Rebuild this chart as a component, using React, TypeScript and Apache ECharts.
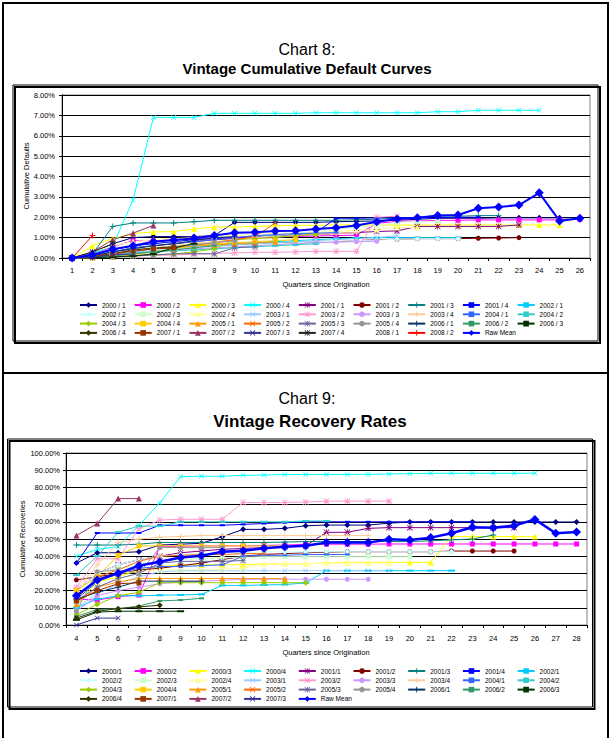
import React, { useEffect, useRef } from 'react';
import * as echarts from 'echarts';

const FONT = "'Liberation Sans', Arial, sans-serif";

// ---------- Chart 8 : cumulative defaults (%) ----------
const QUARTERS_8 = ['1','2','3','4','5','6','7','8','9','10','11','12','13','14','15','16','17','18','19','20','21','22','23','24','25','26'];
const VINTAGES_8 = ['2000 / 1','2000 / 2','2000 / 3','2000 / 4','2001 / 1','2001 / 2','2001 / 3','2001 / 4','2002 / 1','2002 / 2','2002 / 3','2002 / 4','2003 / 1','2003 / 2','2003 / 3','2003 / 4','2004 / 1','2004 / 2','2004 / 3','2004 / 4','2005 / 1','2005 / 2','2005 / 3','2005 / 4','2006 / 1','2006 / 2','2006 / 3','2006 / 4','2007 / 1','2007 / 2','2007 / 3','2007 / 4','2008 / 1','2008 / 2'];

const DEF_2000 = [
  [0, 0.25, 0.7, 1.0, 1.05, 1.05, 1.05, 1.1, 1.75, 1.75, 1.75, 1.75, 1.75, 1.78, 1.8, 1.82, 1.85, 1.9, 1.95, 1.95, 1.95, 1.97, 1.97, 1.97, 1.97, 1.97],
  [0, 0.2, 0.55, 0.85, 0.85, 0.9, 0.95, 1.0, 1.0, 1.02, 1.05, 1.05, 1.08, 1.1, 1.12, 1.7, 1.8, 1.82, 1.85, 1.85, 1.87, 1.87, 1.87, 1.87, 1.87, 1.9],
  [0, 0.6, 0.95, 1.2, 1.28, 1.3, 1.42, 1.52, 1.52, 1.55, 1.58, 1.6, 1.6, 1.62, 1.62, 1.62, 1.62, 1.62, 1.62, 1.62, 1.62, 1.62, 1.62, 1.62, 1.62],
  [0, 0.2, 0.6, 2.85, 6.9, 6.9, 6.9, 7.1, 7.1, 7.1, 7.1, 7.1, 7.13, 7.13, 7.13, 7.13, 7.13, 7.13, 7.18, 7.18, 7.25, 7.25, 7.25, 7.25],
];
const DEF_2001 = [
  [0, 0.1, 0.3, 0.5, 0.6, 0.7, 0.8, 0.9, 0.95, 1.0, 1.05, 1.1, 1.15, 1.2, 1.25, 1.3, 1.33, 1.55, 1.55, 1.55, 1.55, 1.55, 1.62],
  [0, 0.05, 0.15, 0.3, 0.4, 0.5, 0.55, 0.6, 0.65, 0.7, 0.75, 0.75, 0.8, 0.8, 0.85, 0.9, 0.92, 0.95, 0.95, 0.95, 0.97, 0.98, 1.0],
  [0, 0.2, 1.55, 1.72, 1.72, 1.72, 1.78, 1.85, 1.85, 1.85, 1.85, 1.85, 1.85, 1.85, 1.88, 1.9, 1.95, 2.0, 2.05, 2.05, 2.08, 2.08],
  [0, 0.15, 0.4, 0.6, 0.7, 0.8, 0.9, 0.95, 1.0, 1.05, 1.1, 1.15, 1.25, 1.95, 1.95, 1.97, 1.97, 1.97, 1.97, 2.0, 2.0],
];
const DEF_2002 = [
  [0, 0.1, 0.25, 0.4, 0.5, 0.55, 0.6, 0.65, 0.7, 0.75, 0.8, 0.85, 0.9, 0.95, 0.98, 1.0, 1.0, 1.0, 1.0, 1.0],
  [0, 0.05, 0.2, 0.3, 0.4, 0.45, 0.5, 0.55, 0.6, 0.65, 0.7, 0.75, 0.8, 0.82, 0.85, 0.88, 0.92, 0.95, 0.95, 0.95],
  [0, 0.1, 0.2, 0.35, 0.5, 0.6, 0.7, 0.8, 0.9, 1.0, 1.1, 1.2, 1.3, 1.4, 1.5, 1.6, 1.75, 1.8, 1.8],
  [0, 0.3, 0.6, 0.8, 0.9, 0.95, 1.0, 1.05, 1.1, 1.15, 1.2, 1.2, 1.25, 1.3, 1.35, 1.4, 1.5, 1.5],
];
const DEF_2003 = [
  [0, 0.05, 0.15, 0.25, 0.35, 0.45, 0.55, 0.6, 0.65, 0.7, 0.75, 0.8, 0.85, 0.9, 0.95, 1.0, 1.1],
  [0, 0.02, 0.05, 0.1, 0.12, 0.15, 0.18, 0.22, 0.25, 0.28, 0.28, 0.3, 0.33, 0.33, 0.33, 2.0, 2.05],
  [0, 0.05, 0.1, 0.2, 0.3, 0.4, 0.45, 0.5, 0.55, 0.6, 0.65, 0.7, 0.75, 0.78, 0.8, 0.82],
  [0, 0.1, 0.25, 0.4, 0.5, 0.6, 0.7, 0.8, 0.9, 1.0, 1.05, 1.1, 1.15, 1.2, 1.25],
];
const DEF_2004 = [
  [0, 0.1, 0.3, 0.5, 0.6, 0.7, 0.8, 0.9, 1.0, 1.1, 1.15, 1.2, 1.22, 1.25],
  [0, 0.05, 0.15, 0.25, 0.3, 0.35, 0.4, 0.45, 0.5, 0.55, 0.6, 0.65, 0.7],
  [0, 0.02, 0.05, 0.1, 0.15, 0.2, 0.3, 0.45, 0.9, 0.95, 1.0, 1.1, 1.15],
  [0, 0, 0.05, 0.15, 0.3, 0.45, 0.6, 0.7, 0.75, 0.8, 0.85, 0.9],
];
const DEF_2005 = [
  [0, 0.05, 0.2, 0.35, 0.5, 0.55, 0.6, 0.65, 0.7, 0.75, 0.8],
  [0, 0.05, 0.2, 0.35, 0.45, 0.55, 0.65, 0.75, 0.9, 1.05, 1.72],
  [0, 0.02, 0.05, 0.1, 0.15, 0.2, 0.22, 0.2, 0.5, 0.55],
  [0, 0.05, 0.15, 0.3, 0.45, 0.55, 0.65, 0.75, 0.85],
];
const DEF_2006 = [
  [0, 0.1, 0.3, 0.45, 0.6, 0.7, 0.85, 1.0, 1.05],
  [0, 0.05, 0.1, 0.2, 0.3, 0.4, 0.5, 0.6],
  [0, 0.02, 0.05, 0.1, 0.2, 0.5, 0.7],
  [0, 0.05, 0.2, 0.4, 0.48, 0.55],
];
const DEF_2007 = [
  [0, 0.1, 0.2, 0.35, 0.45, 0.5],
  [0, 0.3, 0.9, 1.22, 1.6],
  [0, 0.05, 0.15, 0.2],
  [0, 0.3, 0.7],
];
const DEF_2008 = [
  [0, 0],
  [0, 1.1],
];
const DEF_MEAN = [0, 0.15, 0.43, 0.6, 0.8, 0.88, 0.96, 1.1, 1.24, 1.26, 1.33, 1.34, 1.42, 1.49, 1.59, 1.78, 1.91, 1.98, 2.08, 2.11, 2.44, 2.5, 2.6, 3.2, 1.82, 1.95];

// ---------- Chart 9 : recovery rates (%) ----------
const QUARTERS_9 = ['4','5','6','7','8','9','10','11','12','13','14','15','16','17','18','19','20','21','22','23','24','25','26','27','28'];
const VINTAGES_9 = ['2000/1','2000/2','2000/3','2000/4','2001/1','2001/2','2001/3','2001/4','2002/1','2002/2','2002/3','2002/4','2003/1','2003/2','2003/3','2003/4','2004/1','2004/2','2004/3','2004/4','2005/1','2005/2','2005/3','2005/4','2006/1','2006/2','2006/3','2006/4','2007/1','2007/2','2007/3'];

const REC_2000 = [
  [36, 42, 42, 42.6, 46.5, 47, 47.5, 51.3, 55.6, 55.6, 56.2, 57.7, 58.1, 58.1, 58.1, 59.2, 59.9, 59.9, 59.9, 59.9, 59.9, 59.9, 59.9, 59.9, 59.9],
  [15, 14.5, 16.5, 17.4, 45.5, 45.8, 46, 46, 46, 46.2, 46.5, 46.8, 47, 47, 47, 47.1, 47.1, 47.1, 47.1, 47.1, 47.1, 47.1, 47.1, 47.1, 47.1],
  [12, 25, 28, 32, 34, 35, 35, 35, 35, 35.5, 35.5, 35.5, 36, 36.4, 36.4, 36.4, 36.4, 36.4, 51.4, 51.4, 51.4, 51.4, 51.4],
  [40, 44, 45.5, 58, 71, 86.2, 86.5, 86.5, 87, 87.2, 87.5, 87.5, 87.5, 87.5, 87.6, 87.8, 88, 88.2, 88.2, 88.2, 88.2, 88.2, 88.2],
];
const REC_2001 = [
  [20, 30, 35, 38, 40, 42, 43, 44, 44.5, 45, 45.5, 46, 53.9, 53.9, 56.2, 56.6, 56.6, 56.6, 56.6, 56.6, 56.6, 56.6],
  [26.2, 28, 30, 32, 33, 34.5, 36, 38, 40, 41, 41.5, 42, 42.3, 42.6, 42.6, 42.6, 42.6, 42.6, 43, 43, 43, 43],
  [46.5, 46.5, 46.5, 47, 48, 48, 48, 48, 48, 48, 48.2, 48.5, 48.5, 48.5, 48.5, 48.5, 48.5, 49, 49.5, 50, 52.3],
  [36, 53.5, 53.5, 53.5, 58, 58, 58, 58, 58.5, 59, 59.5, 60, 60, 60, 60, 60, 60, 60, 60, 60],
];
const REC_2002 = [
  [10, 15, 17, 17, 17.3, 17.5, 17.8, 23, 23, 23.3, 23.5, 24.5, 31.6, 31.6, 31.6, 31.6, 31.6, 31.6, 31.6],
  [20, 30, 35, 38, 40, 41, 41.5, 42, 42, 42.5, 42.5, 42.5, 42.6, 42.6, 42.6, 42.6, 42.6, 42.6, 42.6],
  [16, 30, 33, 35, 37, 38, 38.5, 39, 39.5, 39.7, 39.7, 39.7, 39.7, 39.7, 39.7, 39.7, 39.7],
  [18, 25, 30, 31, 32, 32, 32, 32.5, 33, 35.5, 35.5, 35.5, 36, 36, 36, 36],
];
const REC_2003 = [
  [10, 18, 24, 28, 31, 31.5, 31.5, 31.5, 31.5, 31.5, 31.5, 31.6, 31.6, 31.6, 31.6, 31.6],
  [22, 38.5, 38.5, 56, 61, 61.5, 61.5, 61.5, 71.2, 71.2, 71.2, 71.5, 72, 72, 72, 72],
  [8, 17, 20, 22, 24, 25, 25.5, 26, 26.5, 26.6, 26.6, 26.6, 26.6, 26.6, 26.6],
  [20, 35, 48, 50, 51, 51.5, 52, 52, 52, 52, 52, 52, 52, 52, 52],
];
const REC_2004 = [
  [15, 25, 30, 33, 34, 34, 34.5, 35, 40, 40.5, 40.5, 41, 41, 41],
  [29, 40, 54, 57.5, 57.5, 60, 60, 60, 60, 60, 60, 60.5, 60.5],
  [6, 12, 17, 19, 24.6, 24.6, 24.6, 24.6, 24.6, 24.6, 24.6, 24.6],
  [20, 28, 40.5, 46, 46, 46, 46, 46, 46, 46, 46],
];
const REC_2005 = [
  [12, 22, 25, 27, 27, 27, 27, 27, 27, 27, 27],
  [15, 28, 32, 37, 40, 40.5, 41, 41, 41.5, 41.5],
  [14, 22, 27, 30, 36, 37, 37, 37, 37.5],
  [8, 31, 32, 30, 45, 45, 45, 45],
];
const REC_2006 = [
  [15, 19, 22, 25.5, 25.5, 25.5, 25.5],
  [5, 9, 9.5, 11, 14, 14.5, 15.5],
  [3, 7.5, 8, 8, 8, 8],
  [4, 8, 9.5, 10.5, 11.5],
];
const REC_2007 = [
  [14, 20, 24, 24.5],
  [52, 59, 73.5, 73.5],
  [0, 4, 4],
];
const REC_MEAN = [17, 26.2, 30, 34.5, 36.8, 39.3, 40.3, 42.6, 43.2, 44.6, 45.5, 46.1, 47.9, 47.9, 47.9, 49.8, 49.4, 50.8, 53.3, 56.8, 56.6, 57.7, 61.4, 53.3, 54];

// ---------- styling ----------
const PALETTE = ['#000080','#FF00FF','#FFFF00','#00FFFF','#800080','#800000','#008080','#0000FF','#00CCFF','#CCFFFF','#CCFFCC','#FFFF99','#99CCFF','#FF99CC','#CC99FF','#FFCC99','#3366FF','#33CCCC','#99CC00','#FFCC00','#FF9900','#FF6600','#666699','#969696','#003366','#339966','#003300','#333300','#993300','#993366','#333399','#222222','rgba(0,0,0,0)','#FF0000'];
const MEAN_COLOR = '#0000FF';

const X_PATH = 'path://M0,1L1,0L5,4L9,0L10,1L6,5L10,9L9,10L5,6L1,10L0,9L4,5Z';
const PLUS_PATH = 'path://M4.2,0H5.8V4.2H10V5.8H5.8V10H4.2V5.8H0V4.2H4.2Z';
const STAR_PATH = 'path://M4.4,0H5.6V4.4H10V5.6H5.6V10H4.4V5.6H0V4.4H4.4Z M0,0.9L0.9,0L5,4.1L9.1,0L10,0.9L5.9,5L10,9.1L9.1,10L5,5.9L0.9,10L0,9.1L4.1,5Z';

function markerOf(i: number): any {
  switch (i % 9) {
    case 0: return { symbol: 'diamond', symbolSize: 6 };
    case 1: return { symbol: 'rect', symbolSize: 5 };
    case 2: return { symbol: 'triangle', symbolSize: 6 };
    case 3: return { symbol: X_PATH, symbolSize: 5 };
    case 4: return { symbol: STAR_PATH, symbolSize: 6 };
    case 5: return { symbol: 'circle', symbolSize: 5 };
    case 6: return { symbol: PLUS_PATH, symbolSize: 6 };
    case 7: return { symbol: 'rect', symbolSize: [5, 2] };
    default: return { symbol: 'rect', symbolSize: [7, 2] };
  }
}

function buildSeries(names: string[], dataList: number[][], idx: number, mean: number[], meanWidth: number) {
  const list: any[] = names.map((n, i) => ({
    type: 'line',
    name: n,
    xAxisIndex: idx,
    yAxisIndex: idx,
    data: dataList[i],
    ...markerOf(i),
    showAllSymbol: true,
    lineStyle: { width: 1, color: PALETTE[i] },
    itemStyle: { color: PALETTE[i], borderWidth: 0 },
    emphasis: { disabled: true },
    silent: true,
  }));
  list.push({
    type: 'line',
    name: 'Raw Mean',
    xAxisIndex: idx,
    yAxisIndex: idx,
    data: mean,
    symbol: 'diamond',
    symbolSize: 9,
    showAllSymbol: true,
    lineStyle: { width: meanWidth, color: MEAN_COLOR },
    itemStyle: { color: MEAN_COLOR, borderWidth: 0 },
    emphasis: { disabled: true },
    silent: true,
    z: 3,
  });
  return list;
}

function buildLegends(names: string[], left0: number, top0: number) {
  const all = [...names, 'Raw Mean'];
  const out: any[] = [];
  for (let c = 0; c < 9; c++) {
    const data: string[] = [];
    for (let r = 0; r < 4; r++) {
      const k = r * 9 + c;
      if (k < all.length) data.push(all[k]);
    }
    out.push({
      orient: 'vertical',
      left: left0 + c * 54.7,
      top: top0,
      data,
      itemWidth: 17,
      itemHeight: 7,
      itemGap: 2.3,
      padding: 0,
      selectedMode: false,
      textStyle: { fontSize: 6.5, lineHeight: 7, color: '#000', fontFamily: FONT },
    });
  }
  return out;
}

function xAxisOf(gridIndex: number, data: string[], margin: number) {
  return {
    type: 'category',
    gridIndex,
    data,
    boundaryGap: true,
    axisLine: { show: true, lineStyle: { color: '#000', width: 1 } },
    axisTick: { show: true, length: 3, lineStyle: { color: '#000' } },
    axisLabel: { fontSize: 7.5, color: '#000', margin, fontFamily: FONT, interval: 0 },
    splitLine: { show: false },
  };
}

function yAxisOf(gridIndex: number, max: number, interval: number, margin: number) {
  return {
    type: 'value',
    gridIndex,
    min: 0,
    max,
    interval,
    axisLine: { show: true, lineStyle: { color: '#000', width: 1 } },
    axisTick: { show: true, length: 3, lineStyle: { color: '#000' } },
    axisLabel: {
      fontSize: 7.5,
      color: '#000',
      margin,
      fontFamily: FONT,
      formatter: (v: number) => v.toFixed(2) + '%',
    },
    splitLine: { show: true, lineStyle: { color: '#000', width: 1 } },
  };
}

function txt(text: string, x: number, y: number, size: number, bold = false, rotate = 0): any {
  return {
    type: 'text',
    x,
    y,
    rotation: rotate,
    z: 10,
    style: {
      text,
      fontSize: size,
      fontFamily: FONT,
      fontWeight: bold ? 'bold' : 'normal',
      fill: '#000',
      textAlign: 'center',
      textVerticalAlign: 'middle',
    },
  };
}

function frame(x: number, y: number, w: number, h: number): any[] {
  return [
    { type: 'rect', z: -2, shape: { x: x + 2, y: y + 2, width: w, height: h }, style: { fill: 'none', stroke: '#000', lineWidth: 2 } },
    { type: 'rect', z: -1, shape: { x, y, width: w, height: h }, style: { fill: 'none', stroke: '#000', lineWidth: 1 } },
  ];
}

export default function App() {
  const ref = useRef<HTMLDivElement>(null);

  useEffect(() => {
    const chart = echarts.init(ref.current!, undefined, { renderer: 'svg' });

    const defData = [...DEF_2000, ...DEF_2001, ...DEF_2002, ...DEF_2003, ...DEF_2004, ...DEF_2005, ...DEF_2006, ...DEF_2007, ...DEF_2008];
    const recData = [...REC_2000, ...REC_2001, ...REC_2002, ...REC_2003, ...REC_2004, ...REC_2005, ...REC_2006, ...REC_2007];

    const option: any = {
      animation: false,
      backgroundColor: '#fff',
      textStyle: { fontFamily: FONT },
      graphic: {
        elements: [
          { type: 'rect', z: -3, shape: { x: 3, y: 3, width: 605, height: 760 }, style: { fill: 'none', stroke: '#000', lineWidth: 2 } },
          { type: 'line', z: -3, shape: { x1: 3, y1: 373, x2: 608, y2: 373 }, style: { stroke: '#000', lineWidth: 2 } },
          ...frame(13, 85, 585, 256),
          ...frame(7.5, 439, 585, 268),
          txt('Chart 8:', 307, 49, 16),
          txt('Vintage Cumulative Default Curves', 307, 68, 15, true),
          txt('Chart 9:', 307, 398, 16),
          txt('Vintage Recovery Rates', 310, 421, 17, true),
          txt('Cumulative Defaults', 26, 176, 7.5, false, Math.PI / 2),
          txt('Cumulative Recoveries', 22, 539, 7.5, false, Math.PI / 2),
          txt('Quarters since Origination', 326, 284, 7.5),
          txt('Quarters since Origination', 326, 652, 7.5),
        ],
      },
      grid: [
        { left: 62, top: 95, width: 528, height: 163, show: true, borderColor: '#808080', borderWidth: 1, backgroundColor: 'transparent' },
        { left: 66, top: 453, width: 521, height: 172, show: true, borderColor: '#808080', borderWidth: 1, backgroundColor: 'transparent' },
      ],
      xAxis: [xAxisOf(0, QUARTERS_8, 8), xAxisOf(1, QUARTERS_9, 9)],
      yAxis: [yAxisOf(0, 8, 1, 7), yAxisOf(1, 100, 10, 6)],
      legend: [...buildLegends(VINTAGES_8, 79, 301.5), ...buildLegends(VINTAGES_9, 79, 667.5)],
      series: [
        ...buildSeries(VINTAGES_8, defData, 0, DEF_MEAN, 2),
        ...buildSeries(VINTAGES_9, recData, 1, REC_MEAN, 2.5),
      ],
    };

    chart.setOption(option);
    return () => chart.dispose();
  }, []);

  return (
    <div
      ref={ref}
      style={{ position: 'fixed', left: 0, top: 0, width: 613, height: 738, background: '#fff' }}
    />
  );
}
